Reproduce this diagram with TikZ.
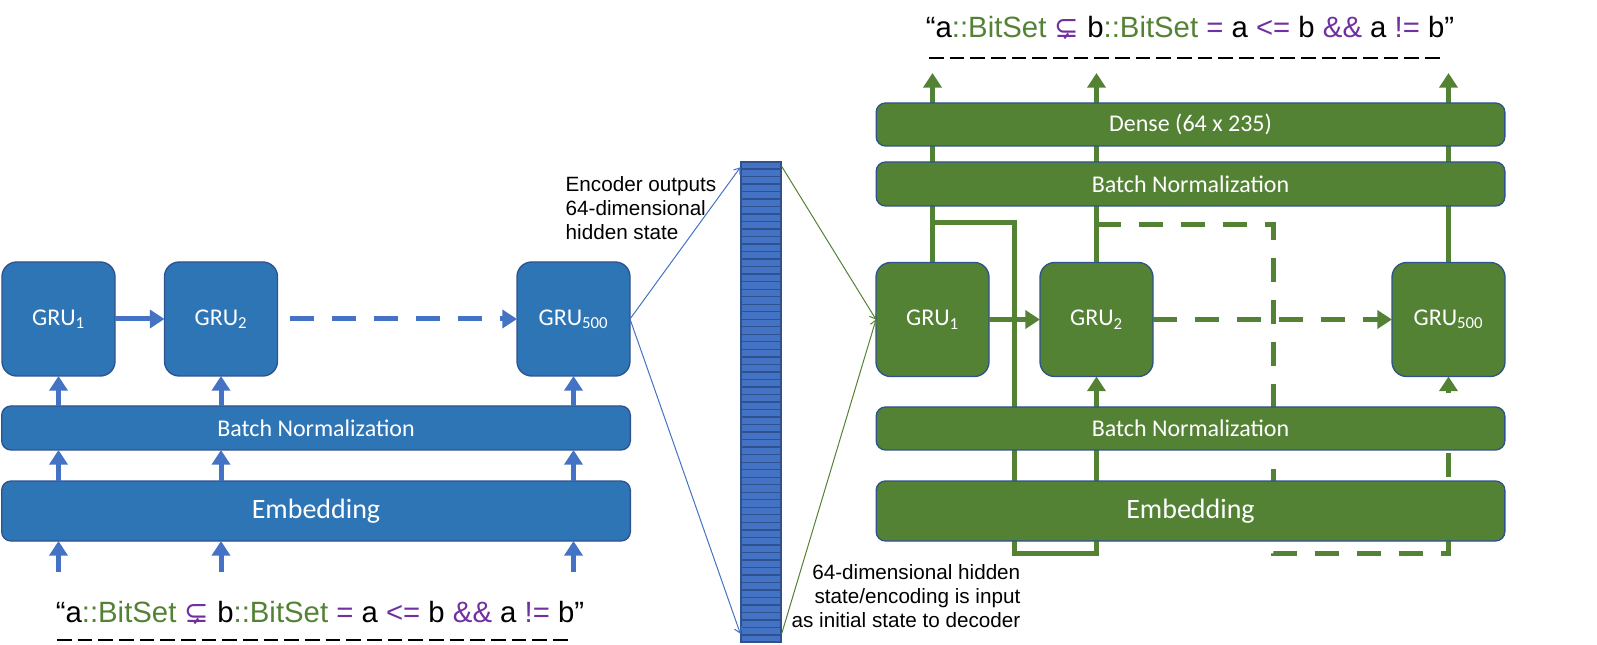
\documentclass[tikz,border=0pt]{standalone}
\usepackage{fontspec}
\setmainfont{Liberation Sans}
\newfontfamily\calibri{Carlito}
\newfontfamily\dejavu{DejaVu Sans}
\usepackage{xcolor}
\usepackage{tikz}
\usetikzlibrary{positioning,calc,arrows.meta}

\definecolor{encblue}{RGB}{46,117,182}
\definecolor{arrblue}{RGB}{68,114,196}
\definecolor{edgeblue}{RGB}{47,82,143}
\definecolor{decgreen}{RGB}{84,130,53}
\definecolor{oppurple}{RGB}{112,48,160}

\pgfdeclarelayer{back}
\pgfsetlayers{back,main}

\newcommand{\bitsetexpr}{“a\textcolor{decgreen}{::BitSet} \textcolor{oppurple}{\dejavu ⊊} b\textcolor{decgreen}{::BitSet} \textcolor{oppurple}{=} a \textcolor{oppurple}{<=} b \textcolor{oppurple}{\&\&} a \textcolor{oppurple}{!=} b”}

\tikzset{
  encbox/.style={draw=edgeblue, line width=1pt, fill=encblue, text=white, inner sep=0pt, outer sep=0pt,
    font=\calibri\fontsize{18}{20}\selectfont},
  decbox/.style={encbox, fill=decgreen},
  grubox/.style={minimum width=84.75pt, minimum height=85.5pt, rounded corners=11pt},
  layerbox/.style={minimum width=471.5pt, rounded corners=7pt},
  bigtext/.style={font=\calibri\fontsize{21}{24}\selectfont},
  barrow/.style={draw=arrblue, line width=3.75pt, -{Triangle[length=11pt,width=13.5pt]}},
  garrow/.style={barrow, draw=decgreen},
  longdash/.style={dash pattern=on 18pt off 13.5pt},
  thinarrow/.style={line width=0.75pt, -{Straight Barb[length=4pt,width=6pt]}},
  note/.style={font=\fontsize{15.5}{18}\selectfont},
  blank/.style={line width=1.8pt, dash pattern=on 11pt off 4.5pt}
}

\begin{document}
\begin{tikzpicture}[x=0.75pt, y=-0.75pt]
\useasboundingbox (0,0) rectangle (1597,645);

% Encoder
\node[encbox, grubox] (egru1) at (58.5,319) {GRU\textsubscript{1}};
\node[encbox, grubox] (egru2) at (221,319) {GRU\textsubscript{2}};
\node[encbox, grubox] (egru500) at (573.5,319) {GRU\textsubscript{500}};
\node[encbox, layerbox, minimum height=33pt] (ebn) at (316,428) {Batch Normalization};
\node[encbox, layerbox, minimum height=45pt, bigtext] (eemb) at (316,511) {Embedding};

\coordinate (inbase) at (0,572);
\draw[barrow] (egru1) -- (egru2);
\draw[barrow, longdash, shorten <=9pt] (egru2) -- (egru500);
\foreach \g in {egru1,egru2,egru500} {
  \draw[barrow] (\g.south |- ebn.north) -- (\g.south);
  \draw[barrow] (\g.south |- eemb.north) -- (\g.south |- ebn.south);
  \draw[barrow] (\g.south |- inbase) -- (\g.south |- eemb.south);
}

% Input sentence
\node (qin) at (320,613) {\fontsize{22}{26}\selectfont\bitsetexpr};
\draw[blank] (57,640) -- (573,640);

% Hidden state vector
\node[draw=edgeblue, fill=arrblue, line width=1pt, minimum width=30pt, minimum height=360pt, inner sep=0pt] (vec) at (761,402) {};
\foreach \i in {1,...,63}
  \draw[edgeblue, line width=1pt] ($(vec.north west)!\i/64!(vec.south west)$) -- ($(vec.north east)!\i/64!(vec.south east)$);

\node[note, anchor=west, align=left] (enote) at (561,208) {Encoder outputs\\64-dimensional\\hidden state};
\draw[thinarrow, arrblue] (egru500.east) -- ([yshift=-4.5pt]vec.north west);
\draw[thinarrow, arrblue] (egru500.east) -- ([yshift=6.75pt]vec.south west);

% Decoder
\node[decbox, grubox] (dgru1) at (932.5,319.5) {GRU\textsubscript{1}};
\node[decbox, grubox] (dgru2) at (1096.5,319.5) {GRU\textsubscript{2}};
\node[decbox, grubox] (dgru500) at (1448.5,319.5) {GRU\textsubscript{500}};
\node[decbox, layerbox, minimum height=32.25pt] (ddense) at (1190.5,124.5) {Dense (64 x 235)};
\node[decbox, layerbox, minimum height=33pt] (dbntop) at (1190.5,184) {Batch Normalization};
\node[decbox, layerbox, minimum height=32.25pt] (dbn) at (1190.5,428.5) {Batch Normalization};
\node[decbox, layerbox, minimum height=45pt, bigtext] (demb) at (1190.5,511) {Embedding};

\draw[thinarrow, decgreen] ([yshift=-3.75pt]vec.north east) -- (dgru1.west);
\draw[thinarrow, decgreen] ([yshift=6.75pt]vec.south east) -- (dgru1.west);

\coordinate (outtop) at (0,73);
\coordinate (fbbot) at (0,553);
\coordinate (fb1) at (1014,223);
\coordinate (fb2) at (1273,225);
\begin{pgfonlayer}{back}
  \foreach \g in {dgru1,dgru2,dgru500}
    \draw[garrow] (\g.north) -- (\g.north |- outtop);
  % outputs fed back as next inputs
  \draw[garrow] (dgru1.north |- fb1) -- (fb1) -- (fb1 |- fbbot) -- (dgru2.south |- fbbot) -- (dgru2.south);
  \draw[garrow, longdash] (dgru2.north |- fb2) -- (fb2) -- (fb2 |- fbbot) -- (dgru500.south |- fbbot) -- (dgru500.south);
\end{pgfonlayer}
\draw[garrow] (dgru1) -- (dgru2);
\draw[garrow, longdash] (dgru2) -- (dgru500);

% Output sentence
\node (qout) at (1190,28) {\fontsize{22}{26}\selectfont\bitsetexpr};
\draw[blank] (929,58) -- (1443,58);

\node[note, anchor=east, align=right] (dnote) at (1025,596) {64-dimensional hidden\\state/encoding is input\\as initial state to decoder};
\end{tikzpicture}
\end{document}
